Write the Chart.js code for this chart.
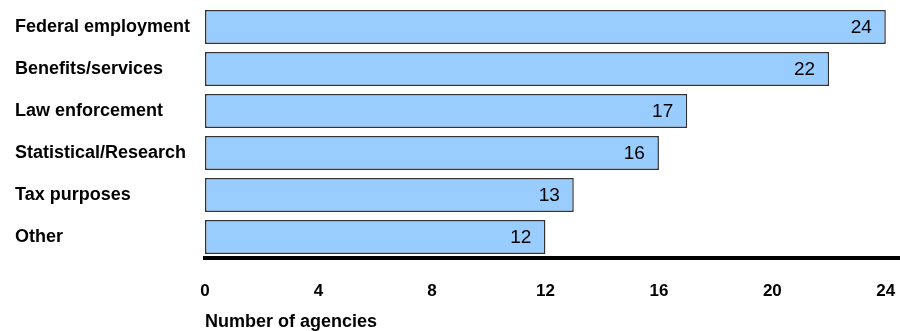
<!DOCTYPE html>
<html>
<head>
<meta charset="utf-8">
<script src="https://cdn.jsdelivr.net/npm/chart.js@4"></script>
<style>
  html, body { margin: 0; padding: 0; background: #fff; }
  #wrap { width: 900px; height: 331px; position: relative; }
</style>
</head>
<body>
<div id="wrap"><canvas id="agencyChart"></canvas></div>
<script>
// Data
const categories = ['Federal employment', 'Benefits/services', 'Law enforcement', 'Statistical/Research', 'Tax purposes', 'Other'];
const agencyCounts = [24, 22, 17, 16, 13, 12];
const xTickValues = [0, 4, 8, 12, 16, 20, 24];
const axisTitle = 'Number of agencies';

const FONT = '"Liberation Sans", Arial, sans-serif';

// Draw the count inside the end of each bar
const valueLabels = {
  id: 'valueLabels',
  afterDatasetsDraw(chart) {
    const ctx = chart.ctx;
    const meta = chart.getDatasetMeta(0);
    ctx.save();
    ctx.font = '19px ' + FONT;
    ctx.fillStyle = '#000';
    ctx.textAlign = 'right';
    ctx.textBaseline = 'middle';
    meta.data.forEach((bar, i) => {
      ctx.fillText(String(agencyCounts[i]), bar.x - 14, bar.y + 1);
    });
    ctx.restore();
  }
};

new Chart(document.getElementById('agencyChart').getContext('2d'), {
  type: 'bar',
  data: {
    labels: categories,
    datasets: [{
      data: agencyCounts,
      backgroundColor: '#99ccff',
      borderColor: '#333333',
      borderWidth: 1.5,
      borderSkipped: false,
      barPercentage: 0.81,
      categoryPercentage: 1
    }]
  },
  options: {
    indexAxis: 'y',
    responsive: true,
    maintainAspectRatio: false,
    animation: false,
    layout: { padding: { left: 15, top: 6, right: 0, bottom: 0 } },
    plugins: {
      legend: { display: false },
      tooltip: { enabled: false }
    },
    scales: {
      x: {
        min: 0,
        max: 24.5,
        grid: { display: false, drawTicks: false },
        border: { display: true, color: '#000', width: 4 },
        afterBuildTicks: (scale) => {
          scale.ticks = xTickValues.map(v => ({ value: v }));
        },
        afterFit: (scale) => {
          scale.height = 73;
          scale.paddingLeft = 0;
          scale.paddingRight = 0;
        },
        ticks: {
          padding: 23,
          color: '#000',
          maxRotation: 0,
          font: { family: FONT, size: 17, weight: 'bold' }
        },
        title: {
          display: true,
          text: axisTitle,
          align: 'start',
          color: '#000',
          padding: 0,
          font: { family: FONT, size: 18, weight: 'bold', lineHeight: 1 }
        }
      },
      y: {
        grid: { display: false, drawTicks: false },
        border: { display: false },
        afterFit: (scale) => {
          scale.width = 190;
          scale.paddingTop = 0;
          scale.paddingBottom = 0;
        },
        ticks: {
          crossAlign: 'far',
          padding: 0,
          color: '#000',
          font: { family: FONT, size: 18, weight: 'bold' }
        }
      }
    }
  },
  plugins: [valueLabels]
});
</script>
</body>
</html>
